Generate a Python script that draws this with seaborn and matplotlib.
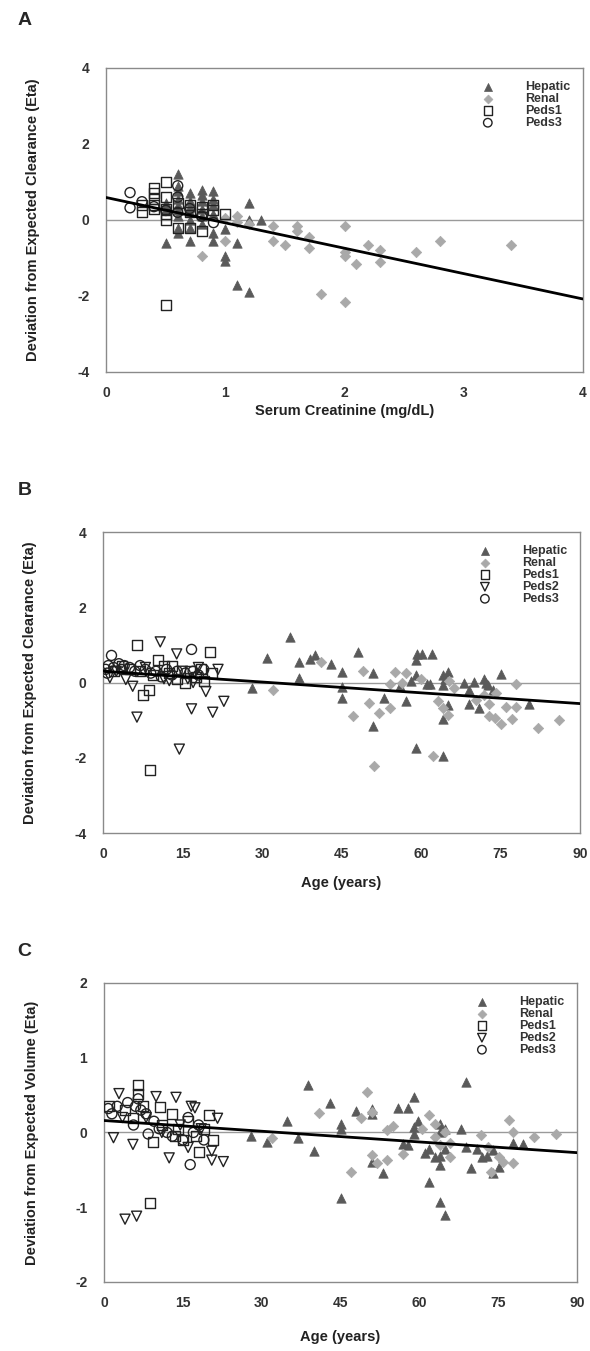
import numpy as np
import pandas as pd
import matplotlib
matplotlib.use("Agg")
import matplotlib.pyplot as plt
import seaborn as sns

sns.set_theme(style="white")
plt.rcParams['font.family'] = ['Liberation Sans', 'DejaVu Sans']

# ---------------- Panel A: Serum creatinine vs clearance eta ----------------
a_hep_x = [0.5,0.6,0.6,0.6,0.6,0.6,0.6,0.6,0.6,0.6,0.7,0.7,0.7,0.7,0.7,0.7,0.7,0.8,0.8,0.8,0.8,0.8,0.8,
           0.9,0.9,0.9,0.9,0.9,0.9,1.0,1.0,1.0,1.1,1.1,1.2,1.2,1.3,1.2,0.5,0.5]
a_hep_y = [-0.6,1.2,0.9,0.75,0.55,0.4,0.25,0.1,-0.2,-0.35,0.7,0.5,0.35,0.2,0.0,-0.2,-0.55,0.8,0.65,0.5,0.3,0.1,-0.1,
           0.75,0.55,0.4,0.15,-0.35,-0.55,-0.25,-0.95,-1.08,-0.6,-1.7,0.45,0.0,0.0,-1.9,0.3,0.45]
a_ren_x = [1.1,1.1,1.0,0.8,1.4,1.4,1.5,1.6,1.6,1.7,1.7,1.8,2.0,2.0,2.0,2.0,2.1,2.2,2.3,2.3,2.6,2.8,3.4,1.0,1.2]
a_ren_y = [0.1,-0.05,-0.55,-0.95,-0.15,-0.55,-0.65,-0.15,-0.3,-0.45,-0.75,-1.95,-0.15,-0.85,-0.95,-2.15,-1.15,
           -0.65,-0.8,-1.1,-0.85,-0.55,-0.65,0.05,-0.1]
a_p1_x = [0.3,0.4,0.4,0.4,0.4,0.4,0.5,0.5,0.5,0.5,0.5,0.6,0.6,0.7,0.7,0.7,0.8,0.8,0.8,0.9,0.9,1.0,0.3,0.5]
a_p1_y = [0.2,0.85,0.7,0.55,0.4,0.3,1.0,0.6,0.3,0.0,-2.25,-0.2,0.45,0.4,0.2,-0.2,-0.3,0.35,0.15,0.4,0.25,0.15,0.4,0.15]
a_p3_x = [0.2,0.2,0.3,0.6,0.6,0.9,0.4,0.5,0.7,0.8,0.6]
a_p3_y = [0.72,0.32,0.48,0.9,0.6,-0.07,0.35,0.25,0.3,0.1,0.2]
a_fit_x = [0, 4]
a_fit_y = [0.59, -2.08]

# ---------------- Panel B: Age vs clearance eta ----------------
b_hep_x = [35.2,31.0,28.1,37.0,37.0,39.1,40.0,43.0,45.0,45.0,45.0,48.1,51.0,51.0,53.1,56.0,57.2,58.1,59.1,59.2,60.1,
           62.0,59.1,59.1,61.1,61.7,64.2,65.0,64.2,65.0,64.2,64.2,68.1,69.1,69.1,70.0,71.0,71.9,72.7,73.6,75.1,80.3,
           64.5,72.3]
b_hep_y = [1.21,0.64,-0.14,0.55,0.12,0.63,0.72,0.48,0.29,-0.13,-0.42,0.81,0.26,-1.15,-0.41,-0.1,-0.5,0.03,0.61,0.75,
           0.76,0.75,0.2,-1.74,-0.05,-0.05,0.2,0.28,-0.07,-0.59,-0.97,-1.96,0.0,-0.2,-0.56,0.01,-0.67,0.09,-0.06,-0.2,
           0.22,-0.58,0.1,0.0]
b_ren_x = [41.1,32.0,49.1,47.1,50.1,52.1,54.1,54.1,55.1,57.2,51.1,62.2,63.2,64.2,66.2,65.2,70.3,71.9,72.8,72.8,73.9,
           75.1,76.1,77.1,78.0,78.0,82.1,86.1,74.2,65.0,60.0,56.5]
b_ren_y = [0.55,-0.2,0.3,-0.88,-0.54,-0.8,-0.68,-0.05,0.27,0.26,-2.21,-1.94,-0.5,-0.68,-0.15,0.04,-0.47,-0.33,-0.56,
           -0.88,-0.94,-1.1,-0.66,-0.97,-0.05,-0.66,-1.21,-0.99,-0.27,-0.85,0.1,0.0]
b_p1_x = [6.5,20.1,8.9,7.6,8.6,10.4,3.5,5.0,7.0,9.5,11.5,12.5,14.0,16.5,17.5,18.5,19.0,20.5,13.0,2.0,15.5]
b_p1_y = [0.99,0.81,-2.32,-0.32,-0.2,0.6,0.45,0.35,0.3,0.2,0.45,0.25,0.1,0.3,0.15,0.35,0.05,0.25,0.45,0.3,0.0]
b_p2_x = [10.8,13.9,6.4,14.4,16.7,20.7,22.8,5.6,19.4,21.7,1.3,4.3,2.5,8.0,11.5,12.5,15.0,17.0,18.0,16.0]
b_p2_y = [1.08,0.76,-0.92,-1.77,-0.70,-0.79,-0.5,-0.1,-0.24,0.35,0.13,0.08,0.3,0.4,0.1,0.05,0.3,0.0,0.4,0.1]
b_p3_x = [1.6,16.7,0.5,1.0,2.0,3.0,4.0,5.0,6.0,7.0,8.0,9.0,10.0,11.0,12.0,13.0,14.0,15.5,17.0,18.0,19.0,0.8,3.5]
b_p3_y = [0.72,0.88,0.35,0.45,0.4,0.5,0.45,0.4,0.3,0.45,0.35,0.25,0.3,0.15,0.35,0.2,0.3,0.25,0.3,0.2,0.35,0.25,0.35]
b_fit_x = [0, 90]
b_fit_y = [0.30, -0.56]

# ---------------- Panel C: Age vs volume eta ----------------
c_hep_x = [38.9,43.0,34.9,28.0,31.0,37.0,40.0,45.0,45.0,45.0,47.9,50.9,50.9,53.0,50.9,56.0,57.9,58.9,59.8,58.9,58.9,
           56.9,57.9,61.0,61.9,61.9,63.9,63.9,64.9,63.9,63.9,62.9,64.9,63.9,64.9,67.9,68.9,68.9,69.8,70.9,71.9,72.8,
           74.1,75.1,74.1,77.9,79.7]
c_hep_y = [0.64,0.39,0.16,-0.05,-0.13,-0.08,-0.25,0.12,0.05,-0.87,0.29,0.31,0.25,-0.54,-0.39,0.33,0.33,0.48,0.16,0.07,
           -0.02,-0.15,-0.17,-0.28,-0.22,-0.66,0.11,0.01,0.05,-0.44,-0.32,-0.33,-0.22,-0.93,-1.11,0.05,0.67,-0.19,
           -0.48,-0.22,-0.33,-0.31,-0.24,-0.46,-0.54,-0.14,-0.15]
c_ren_x = [41.0,31.9,50.0,48.9,50.9,47.0,50.9,51.9,53.9,53.9,54.9,56.9,61.9,62.9,62.9,64.9,65.8,65.8,63.9,71.8,73.7,
           75.1,76.0,77.0,77.9,77.9,81.8,86.0,73.0,60.5]
c_ren_y = [0.26,-0.08,0.54,0.2,0.27,-0.53,-0.3,-0.41,-0.37,0.03,0.09,-0.29,0.23,0.12,-0.06,0.01,-0.14,-0.33,-0.17,
           -0.04,-0.53,-0.33,-0.40,0.17,0.0,-0.41,-0.06,-0.02,-0.2,0.05]
c_p1_x = [6.4,6.5,8.75,9.4,10.7,12.9,20.8,19.9,18.0,1.0,4.0,7.5,11.0,14.0,16.0,17.5,19.0,5.5,15.0,13.5]
c_p1_y = [0.63,0.52,-0.94,-0.13,0.34,0.25,-0.1,0.23,-0.26,0.35,0.3,0.35,0.1,0.05,0.15,-0.05,0.05,0.2,-0.1,-0.05]
c_p2_x = [2.85,9.9,13.7,1.8,5.5,12.4,20.5,22.7,21.6,16.6,4.0,6.2,17.3,20.5,8.0,11.0,14.5,18.5,3.5,16.0]
c_p2_y = [0.52,0.48,0.47,-0.07,-0.16,-0.34,-0.37,-0.39,0.19,0.35,-1.16,-1.12,0.33,-0.25,0.2,0.0,0.1,0.05,0.2,-0.2]
c_p3_x = [16.4,0.8,5.6,8.4,1.5,2.5,4.5,6.0,7.0,8.0,9.5,10.5,12.0,13.0,15.0,17.0,18.0,19.0,16.0,6.5]
c_p3_y = [-0.43,0.32,0.1,-0.02,0.25,0.35,0.4,0.35,0.3,0.25,0.15,0.05,0.0,-0.05,-0.1,0.0,0.1,-0.1,0.2,0.45]
c_fit_x = [0, 90]
c_fit_y = [0.16, -0.27]

# ---------------- styles ----------------
styles = {
    "Hepatic": dict(marker="^", s=46, facecolor="#5a5a5a", edgecolor="#5a5a5a", linewidth=0.5),
    "Renal":   dict(marker="D", s=28, facecolor="#a9a9a9", edgecolor="#a9a9a9", linewidth=0.5),
    "Peds1":   dict(marker="s", s=52, facecolor="none", edgecolor="#222222", linewidth=1.0),
    "Peds2":   dict(marker="v", s=52, facecolor="none", edgecolor="#222222", linewidth=1.0),
    "Peds3":   dict(marker="o", s=52, facecolor="none", edgecolor="#222222", linewidth=1.0),
}

fig = plt.figure(figsize=(5.90, 13.51), dpi=100)

panels = [
    dict(rect=[0.180, 0.7247, 0.808, 0.2250], letter="A", letter_y=0.985, xlab_y=-0.105,
         groups=[("Hepatic", a_hep_x, a_hep_y), ("Renal", a_ren_x, a_ren_y),
                 ("Peds1", a_p1_x, a_p1_y), ("Peds3", a_p3_x, a_p3_y)],
         fit=(a_fit_x, a_fit_y), xlim=(0, 4), xticks=[0, 1, 2, 3, 4],
         ylim=(-4, 4), yticks=[-4, -2, 0, 2, 4],
         xlabel="Serum Creatinine (mg/dL)", ylabel="Deviation from Expected Clearance (Eta)"),
    dict(rect=[0.1746, 0.3834, 0.8085, 0.2228], letter="B", letter_y=0.637, xlab_y=-0.142,
         groups=[("Hepatic", b_hep_x, b_hep_y), ("Renal", b_ren_x, b_ren_y),
                 ("Peds1", b_p1_x, b_p1_y), ("Peds2", b_p2_x, b_p2_y), ("Peds3", b_p3_x, b_p3_y)],
         fit=(b_fit_x, b_fit_y), xlim=(0, 90), xticks=[0, 15, 30, 45, 60, 75, 90],
         ylim=(-4, 4), yticks=[-4, -2, 0, 2, 4],
         xlabel="Age (years)", ylabel="Deviation from Expected Clearance (Eta)"),
    dict(rect=[0.1763, 0.0511, 0.8017, 0.2213], letter="C", letter_y=0.296, xlab_y=-0.16,
         groups=[("Hepatic", c_hep_x, c_hep_y), ("Renal", c_ren_x, c_ren_y),
                 ("Peds1", c_p1_x, c_p1_y), ("Peds2", c_p2_x, c_p2_y), ("Peds3", c_p3_x, c_p3_y)],
         fit=(c_fit_x, c_fit_y), xlim=(0, 90), xticks=[0, 15, 30, 45, 60, 75, 90],
         ylim=(-2, 2), yticks=[-2, -1, 0, 1, 2],
         xlabel="Age (years)", ylabel="Deviation from Expected Volume (Eta)"),
]

for p in panels:
    ax = fig.add_axes(p["rect"])
    ax.axhline(0, color="#9a9a9a", lw=1.0, zorder=1)
    for name, xs, ys in p["groups"]:
        st = styles[name]
        df = pd.DataFrame({"x": xs, "y": ys})
        sns.scatterplot(data=df, x="x", y="y", ax=ax, marker=st["marker"], s=st["s"],
                        facecolor=st["facecolor"], edgecolor=st["edgecolor"],
                        linewidth=st["linewidth"], label=name, zorder=3, legend=False)
    fdf = pd.DataFrame({"x": p["fit"][0], "y": p["fit"][1]})
    sns.lineplot(data=fdf, x="x", y="y", ax=ax, color="black", lw=2.0, zorder=4, legend=False)
    ax.set_xlim(*p["xlim"])
    ax.set_ylim(*p["ylim"])
    ax.set_xticks(p["xticks"])
    ax.set_yticks(p["yticks"])
    ax.set_xticklabels([str(t) for t in p["xticks"]], fontweight="bold", color="#333333", fontsize=10)
    ax.set_yticklabels([str(t) for t in p["yticks"]], fontweight="bold", color="#333333", fontsize=10)
    ax.tick_params(axis="x", length=0, pad=10)
    ax.tick_params(axis="y", direction="in", length=4, color="#888888", pad=12)
    for sp in ax.spines.values():
        sp.set_color("#8a8a8a")
        sp.set_linewidth(1.0)
    ax.set_xlabel(p["xlabel"], fontweight="bold", fontsize=10.5, color="#222222")
    ax.set_ylabel(p["ylabel"], fontweight="bold", fontsize=10.5, color="#222222")
    ax.xaxis.set_label_coords(0.5, p["xlab_y"])
    ax.yaxis.set_label_coords(-0.138, 0.5)
    handles, labels = ax.get_legend_handles_labels()
    leg = ax.legend(handles, labels, loc="upper right", bbox_to_anchor=(0.995, 0.99), frameon=False,
                    prop={"weight": "bold", "size": 9}, handletextpad=2.0, labelspacing=0.0,
                    markerscale=0.85, borderpad=0.3)
    for t in leg.get_texts():
        t.set_color("#333333")
    fig.text(0.03, p["letter_y"], p["letter"], fontsize=14, fontweight="bold", ha="left", va="center")

fig.savefig("out.png", dpi=100, facecolor="white")
